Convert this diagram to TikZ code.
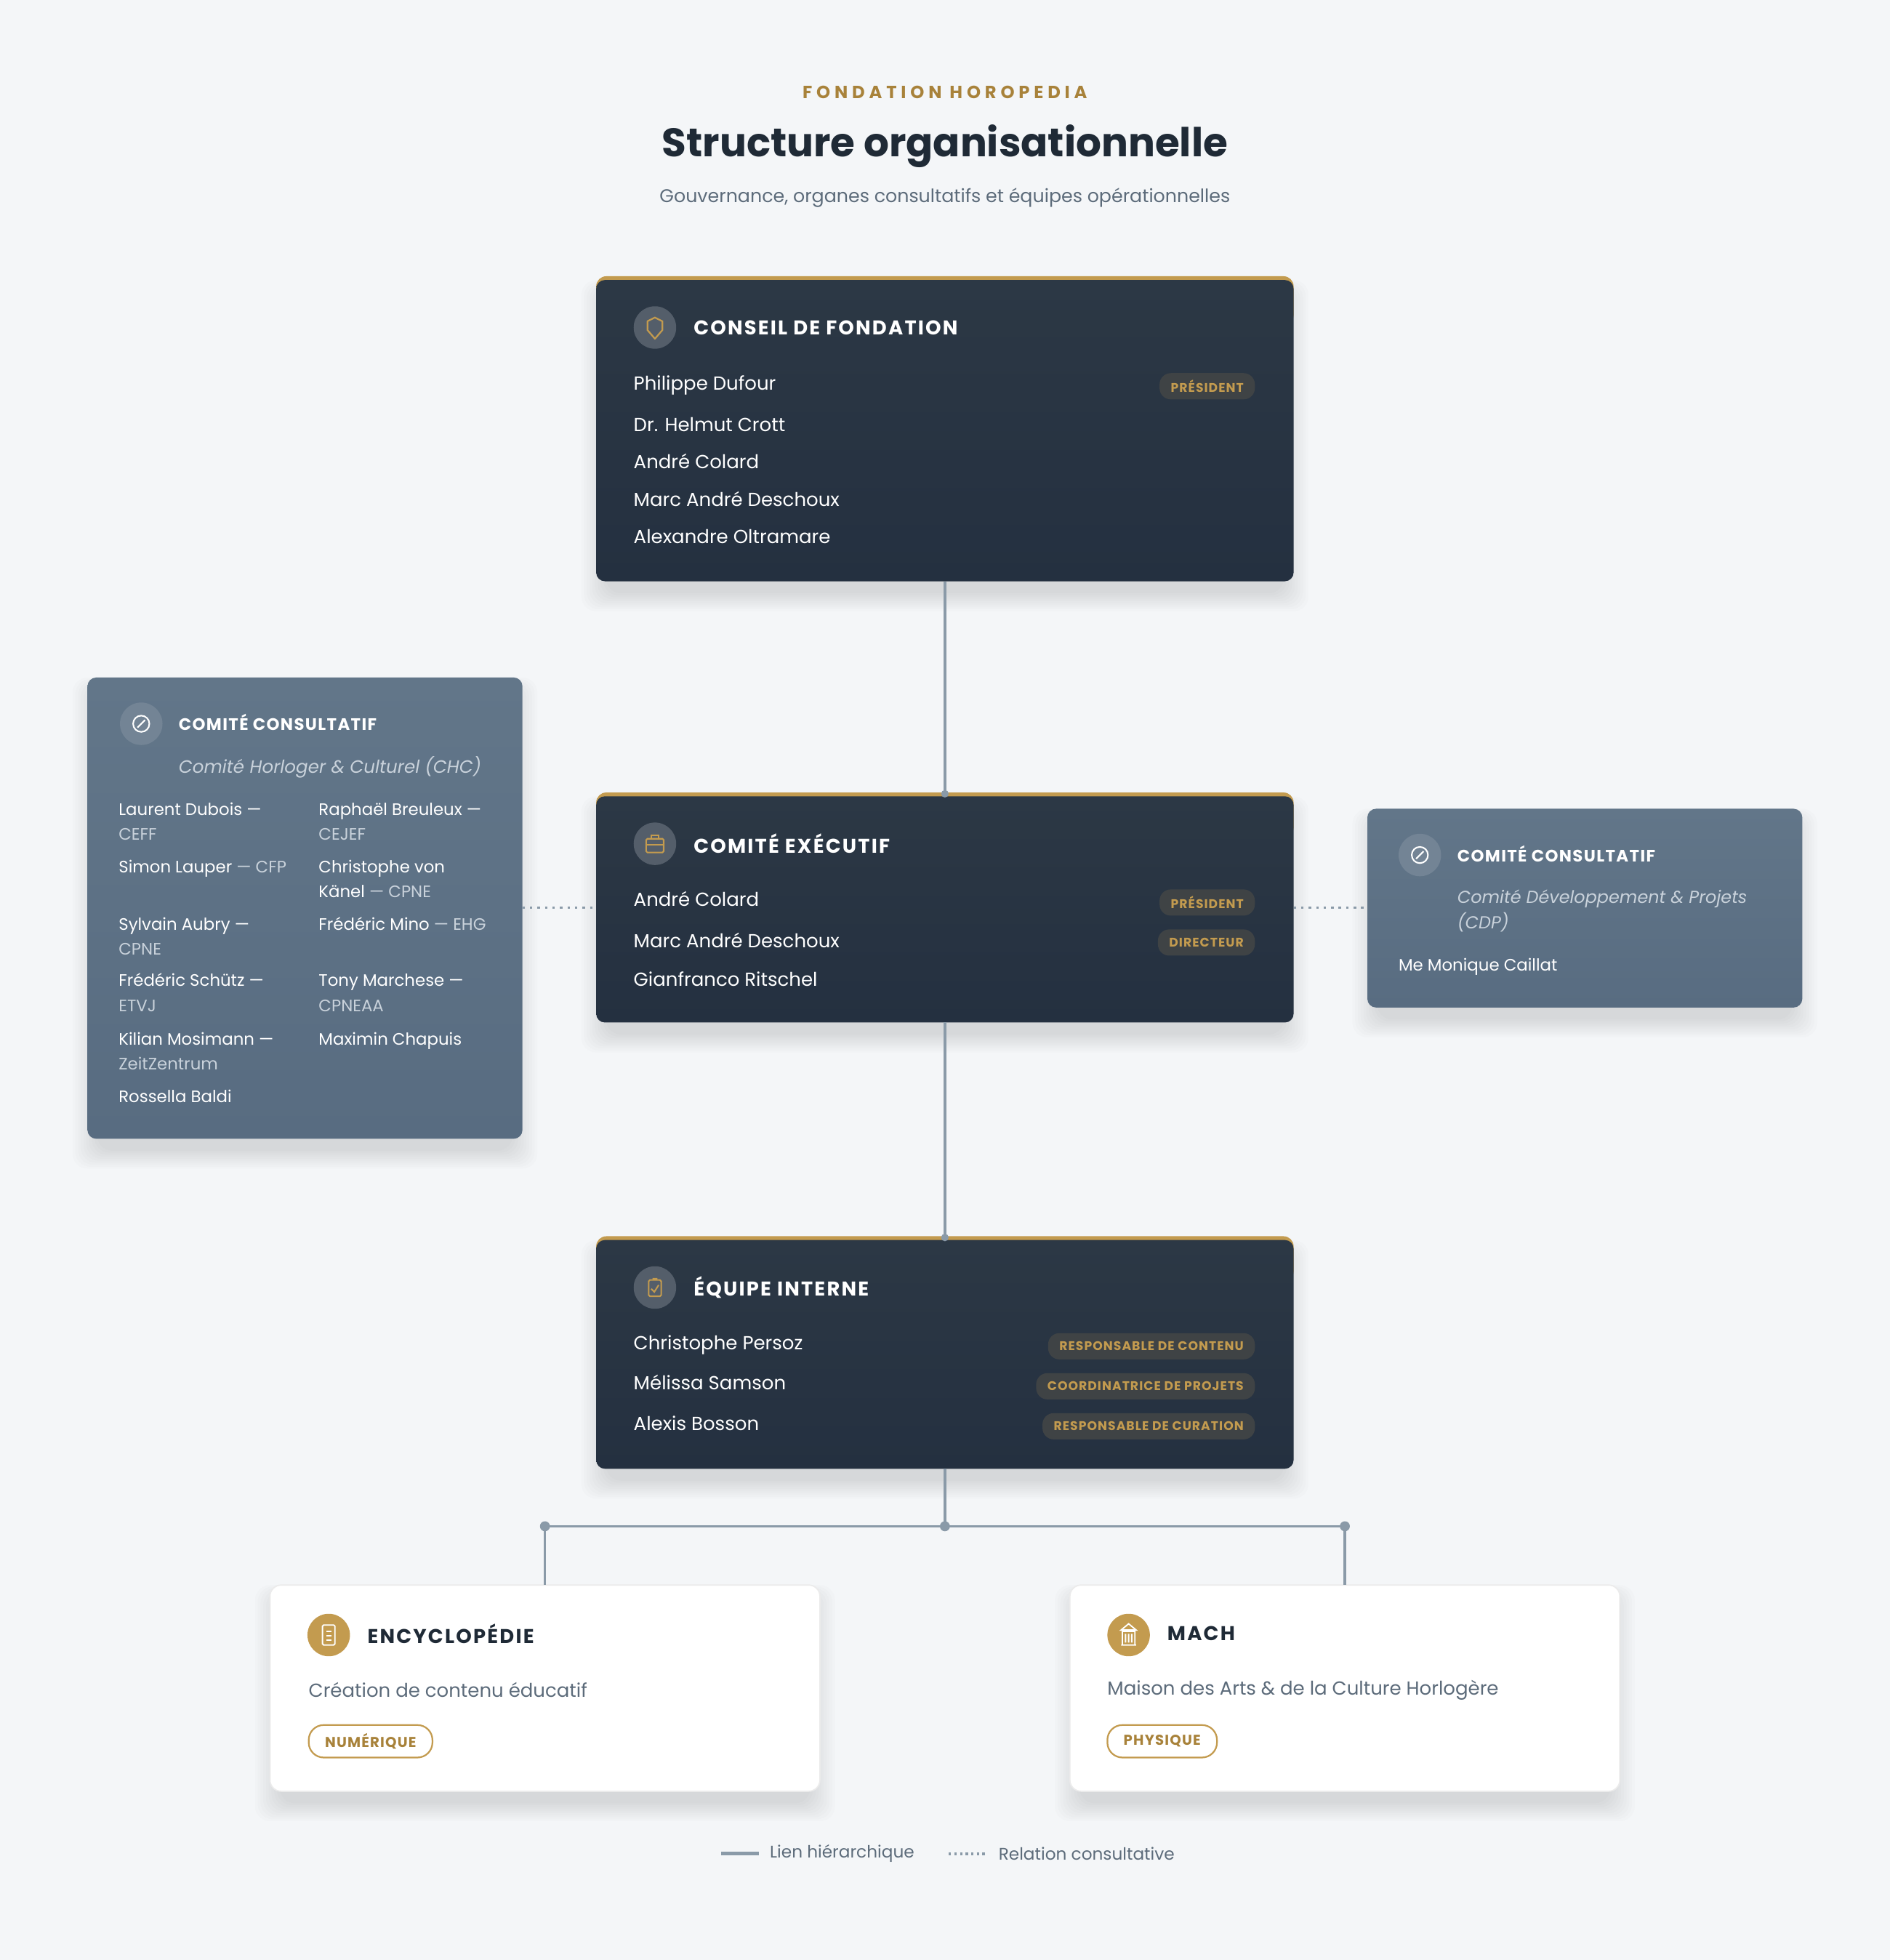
\documentclass[tikz,border=0pt]{standalone}
\usepackage{fontspec}
\setmainfont{Poppins}
\newlength\px \setlength\px{0.017196cm}
\definecolor{bg}{HTML}{F4F6F8}
\definecolor{dk}{HTML}{243040}
\definecolor{dkt}{HTML}{2C3845}
\definecolor{gold}{HTML}{C39B4F}
\definecolor{goldt}{HTML}{A8823A}
\definecolor{sl}{HTML}{586C81}
\definecolor{slt}{HTML}{627689}
\definecolor{gt}{HTML}{5C6B7A}
\definecolor{ttl}{HTML}{1F2A36}
\definecolor{ln}{HTML}{8A9AA8}
\definecolor{bdg}{HTML}{3F4345}
\definecolor{sub}{HTML}{C9D2DB}
\newcommand\softshadow[4]{%
  \foreach \i in {1,...,10}{
    \fill[black, opacity=0.010, rounded corners=12\px]
      ({#1+10-\i*2.2},{#2+12-\i*1.2}) rectangle ({#3-10+\i*2.2},{#4+8+\i*1.6});
  }}
\tikzset{
 every node/.style={inner sep=0pt, outer sep=0pt},
 darkbox/.style={anchor=north west, rounded corners=7\px, top color=dkt, bottom color=dk},
 slbox/.style={anchor=north west, rounded corners=7\px, top color=slt, bottom color=sl},
 whbox/.style={anchor=north west, rounded corners=9\px, fill=white, draw=black!8, line width=1\px},
 hdr/.style={anchor=west, text=white, font=\fontsize{7.8pt}{9pt}\selectfont\bfseries\addfontfeature{LetterSpace=8}},
 hdrs/.style={anchor=west, text=white, font=\fontsize{6.5pt}{8pt}\selectfont\bfseries\addfontfeature{LetterSpace=6}},
 nm/.style={anchor=base west, text=white, font=\fontsize{7.4pt}{9pt}\selectfont\mdseries},
 sm/.style={anchor=base west, text=white, font=\fontsize{6.5pt}{8pt}\selectfont\mdseries},
 badge/.style={anchor=east, fill=bdg, rounded corners=9\px, text=gold, minimum height=21\px, inner xsep=9\px, font=\fontsize{4.9pt}{6pt}\selectfont\bfseries\addfontfeature{LetterSpace=6}},
 tag/.style={anchor=west, draw=gold, line width=1.3\px, rounded corners=12\px, text=goldt, minimum height=26\px, inner xsep=13\px, font=\fontsize{5.6pt}{7pt}\selectfont\bfseries\addfontfeature{LetterSpace=6}},
 hl/.style={draw=ln, line width=2\px},
 dl/.style={draw=ln, line width=2\px, dash pattern=on 2\px off 4\px},
 dot/.style={circle, fill=ln, minimum size=8\px},
}
\begin{document}
\begin{tikzpicture}[x=\px,y=-\px]
\fill[bg] (0,0) rectangle (1512,1568);
\useasboundingbox (0,0) rectangle (1512,1568);
% title
\node[text=goldt, font=\fontsize{6.9pt}{8pt}\selectfont\bfseries\addfontfeature{LetterSpace=24}] (kick) at (756,74) {FONDATION HOROPEDIA};
\node[text=ttl, font=\fontsize{15.6pt}{18pt}\selectfont\bfseries] (title) at (756,117) {Structure organisationnelle};
\node[text=gt, font=\fontsize{7.2pt}{9pt}\selectfont] (subt) at (756,158) {Gouvernance, organes consultatifs et équipes opérationnelles};

% shadows
\softshadow{477}{224}{1035}{465}
\softshadow{477}{637}{1035}{818}
\softshadow{477}{992}{1035}{1175}
\softshadow{70}{542}{418}{911}
\softshadow{1094}{647}{1442}{806}
\softshadow{216}{1268}{656}{1433}
\softshadow{856}{1268}{1296}{1433}

\coordinate (j) at (756,1221);
\coordinate (jl) at (436,1221);
\coordinate (jr) at (1076,1221);

% Conseil
\fill[gold, rounded corners=8\px] (477,221) rectangle (1035,260);
\node[darkbox, minimum width=558\px, minimum height=241\px] (cf) at (477,224) {};
\fill[white!22!dk] (524,262) circle (17\px);
\draw[gold, line width=1.3\px, line join=round] (524,254) -- (530,257) -- (530,264) -- (524,271) -- (518,264) -- (518,257) -- cycle;
\node[hdr] (cft) at (555,262) {CONSEIL DE FONDATION};
\node[nm] (c1) at (507,312) {Philippe Dufour};
\node[nm] (c2) at (507,345) {Dr. Helmut Crott};
\node[nm] (c3) at (507,375) {André Colard};
\node[nm] (c4) at (507,405) {Marc André Deschoux};
\node[nm] (c5) at (507,435) {Alexandre Oltramare};
\node[badge] (b1) at (1004,309) {PRÉSIDENT};

% Exec
\fill[gold, rounded corners=8\px] (477,634) rectangle (1035,670);
\node[darkbox, minimum width=558\px, minimum height=181\px] (ce) at (477,637) {};
\fill[white!22!dk] (524,675) circle (17\px);
\draw[gold, line width=1.2\px, rounded corners=1\px] (517,671) rectangle (531,682);
\draw[gold, line width=1.2\px] (521,671) -- (521,668) -- (527,668) -- (527,671) (517,676) -- (531,676);
\node[hdr] (cet) at (555,675) {COMITÉ EXÉCUTIF};
\node[nm] (e1) at (507,725) {André Colard};
\node[nm] (e2) at (507,758) {Marc André Deschoux};
\node[nm] (e3) at (507,789) {Gianfranco Ritschel};
\node[badge] (b2) at (1004,722) {PRÉSIDENT};
\node[badge] (b3) at (1004,754) {DIRECTEUR};

% Equipe
\fill[gold, rounded corners=8\px] (477,989) rectangle (1035,1025);
\node[darkbox, minimum width=558\px, minimum height=183\px] (eq) at (477,992) {};
\fill[white!22!dk] (524,1030) circle (17\px);
\draw[gold, line width=1.2\px, rounded corners=1\px] (519,1024) rectangle (529,1037);
\draw[gold, line width=1.2\px] (522,1023) -- (526,1023) (521,1031) -- (523.5,1033.5) -- (527,1028);
\node[hdr] (eqt) at (555,1030) {ÉQUIPE INTERNE};
\node[nm] (q1) at (507,1080) {Christophe Persoz};
\node[nm] (q2) at (507,1112) {Mélissa Samson};
\node[nm] (q3) at (507,1144) {Alexis Bosson};
\node[badge] (b4) at (1004,1077) {RESPONSABLE DE CONTENU};
\node[badge] (b5) at (1004,1109) {COORDINATRICE DE PROJETS};
\node[badge] (b6) at (1004,1141) {RESPONSABLE DE CURATION};

% Left consult
\node[slbox, minimum width=348\px, minimum height=369\px] (cl) at (70,542) {};
\fill[white!16!sl] (113,579) circle (17\px);
\draw[white, line width=1.2\px] (113,579) circle (6.5\px) (110,582) -- (116,576);
\node[hdrs] (clt) at (143,578) {COMITÉ CONSULTATIF};
\node[anchor=west, text=sub, font=\fontsize{7pt}{9pt}\selectfont\itshape] (cls) at (143,614) {Comité Horloger \& Culturel (CHC)};
\node[sm] (l1) at (95,652) {Laurent Dubois —};
\node[sm, text=sub] (l1b) at (95,672) {CEFF};
\node[sm] (l2) at (95,698) {Simon Lauper \textcolor{sub}{— CFP}};
\node[sm] (l3) at (95,744) {Sylvain Aubry —};
\node[sm, text=sub] (l3b) at (95,764) {CPNE};
\node[sm] (l4) at (95,789) {Frédéric Schütz —};
\node[sm, text=sub] (l4b) at (95,809) {ETVJ};
\node[sm] (l5) at (95,836) {Kilian Mosimann —};
\node[sm, text=sub] (l5b) at (95,856) {ZeitZentrum};
\node[sm] (l6) at (95,882) {Rossella Baldi};
\node[sm] (r1) at (255,652) {Raphaël Breuleux —};
\node[sm, text=sub] (r1b) at (255,672) {CEJEF};
\node[sm] (r2) at (255,698) {Christophe von};
\node[sm] (r2b) at (255,718) {Känel \textcolor{sub}{— CPNE}};
\node[sm] (r3) at (255,744) {Frédéric Mino \textcolor{sub}{— EHG}};
\node[sm] (r4) at (255,789) {Tony Marchese —};
\node[sm, text=sub] (r4b) at (255,809) {CPNEAA};
\node[sm] (r5) at (255,836) {Maximin Chapuis};

% Right consult
\node[slbox, minimum width=348\px, minimum height=159\px] (cr) at (1094,647) {};
\fill[white!16!sl] (1136,684) circle (17\px);
\draw[white, line width=1.2\px] (1136,684) circle (6.5\px) (1133,687) -- (1139,681);
\node[hdrs] (crt) at (1166,683) {COMITÉ CONSULTATIF};
\node[anchor=west, text=sub, font=\fontsize{6.8pt}{9pt}\selectfont\itshape] (crs1) at (1166,719) {Comité Développement \& Projets};
\node[anchor=west, text=sub, font=\fontsize{6.8pt}{9pt}\selectfont\itshape] (crs2) at (1166,738) {(CDP)};
\node[sm] (rc1) at (1119,777) {Me Monique Caillat};

% Bottom cards
\node[whbox, minimum width=440\px, minimum height=165\px] (en) at (216,1268) {};
\fill[gold] (263,1308) circle (17\px);
\draw[white, line width=1.1\px, rounded corners=1\px] (258,1300) rectangle (268,1316);
\draw[white, line width=1\px] (261,1305) -- (265,1305) (261,1308.5) -- (265,1308.5) (261,1312) -- (265,1312);
\node[anchor=west, text=ttl, font=\fontsize{7.8pt}{9pt}\selectfont\bfseries\addfontfeature{LetterSpace=8}] (ent) at (294,1307) {ENCYCLOPÉDIE};
\node[anchor=west, text=gt, font=\fontsize{7.4pt}{9pt}\selectfont] (end) at (247,1352) {Création de contenu éducatif};
\node[tag] (ent2) at (247,1393) {NUMÉRIQUE};

\node[whbox, minimum width=440\px, minimum height=165\px] (ma) at (856,1268) {};
\fill[gold] (903,1308) circle (17\px);
\draw[white, line width=1.1\px] (897,1304) -- (903,1299) -- (909,1304) -- cycle (897,1316) -- (909,1316) (898,1305) rectangle (908,1316)
 (900.5,1307) -- (900.5,1314) (903,1307) -- (903,1314) (905.5,1307) -- (905.5,1314);
\node[anchor=west, text=ttl, font=\fontsize{7.8pt}{9pt}\selectfont\bfseries\addfontfeature{LetterSpace=8}] (mat) at (934,1307) {MACH};
\node[anchor=west, text=gt, font=\fontsize{7.4pt}{9pt}\selectfont] (mad) at (886,1352) {Maison des Arts \& de la Culture Horlogère};
\node[tag] (mat2) at (886,1393) {PHYSIQUE};

% connectors
\draw[hl] (cf.south) -- (ce.north);
\draw[hl] (ce.south) -- (eq.north);
\draw[hl] (eq.south) -- (j);
\draw[hl] (jl) -- (jr);
\draw[hl] (jl) -- (jl |- en.north);
\draw[hl] (jr) -- (jr |- ma.north);
\draw[dl] (cl.east |- 0,726) -- (ce.west |- 0,726);
\draw[dl] (ce.east |- 0,726) -- (cr.west |- 0,726);
\node[dot, minimum size=6\px] (d1) at ([yshift=2\px]ce.north) {};
\node[dot, minimum size=6\px] (d2) at ([yshift=2\px]eq.north) {};
\node[dot] (d3) at (j) {};
\node[dot] (d4) at (jl) {};
\node[dot] (d5) at (jr) {};

% legend
\coordinate (lg1) at (577,1483);
\coordinate (lg2) at (607,1483);
\draw[draw=ln, line width=3\px] (lg1) -- (lg2);
\node[anchor=west, text=gt, font=\fontsize{6.6pt}{8pt}\selectfont] (lgt1) at (616,1483) {Lien hiérarchique};
\coordinate (lg3) at (759,1483);
\coordinate (lg4) at (790,1483);
\draw[draw=ln, line width=2\px, dash pattern=on 2\px off 2.5\px] (lg3) -- (lg4);
\node[anchor=west, text=gt, font=\fontsize{6.6pt}{8pt}\selectfont] (lgt2) at (799,1483) {Relation consultative};
\end{tikzpicture}
\end{document}
